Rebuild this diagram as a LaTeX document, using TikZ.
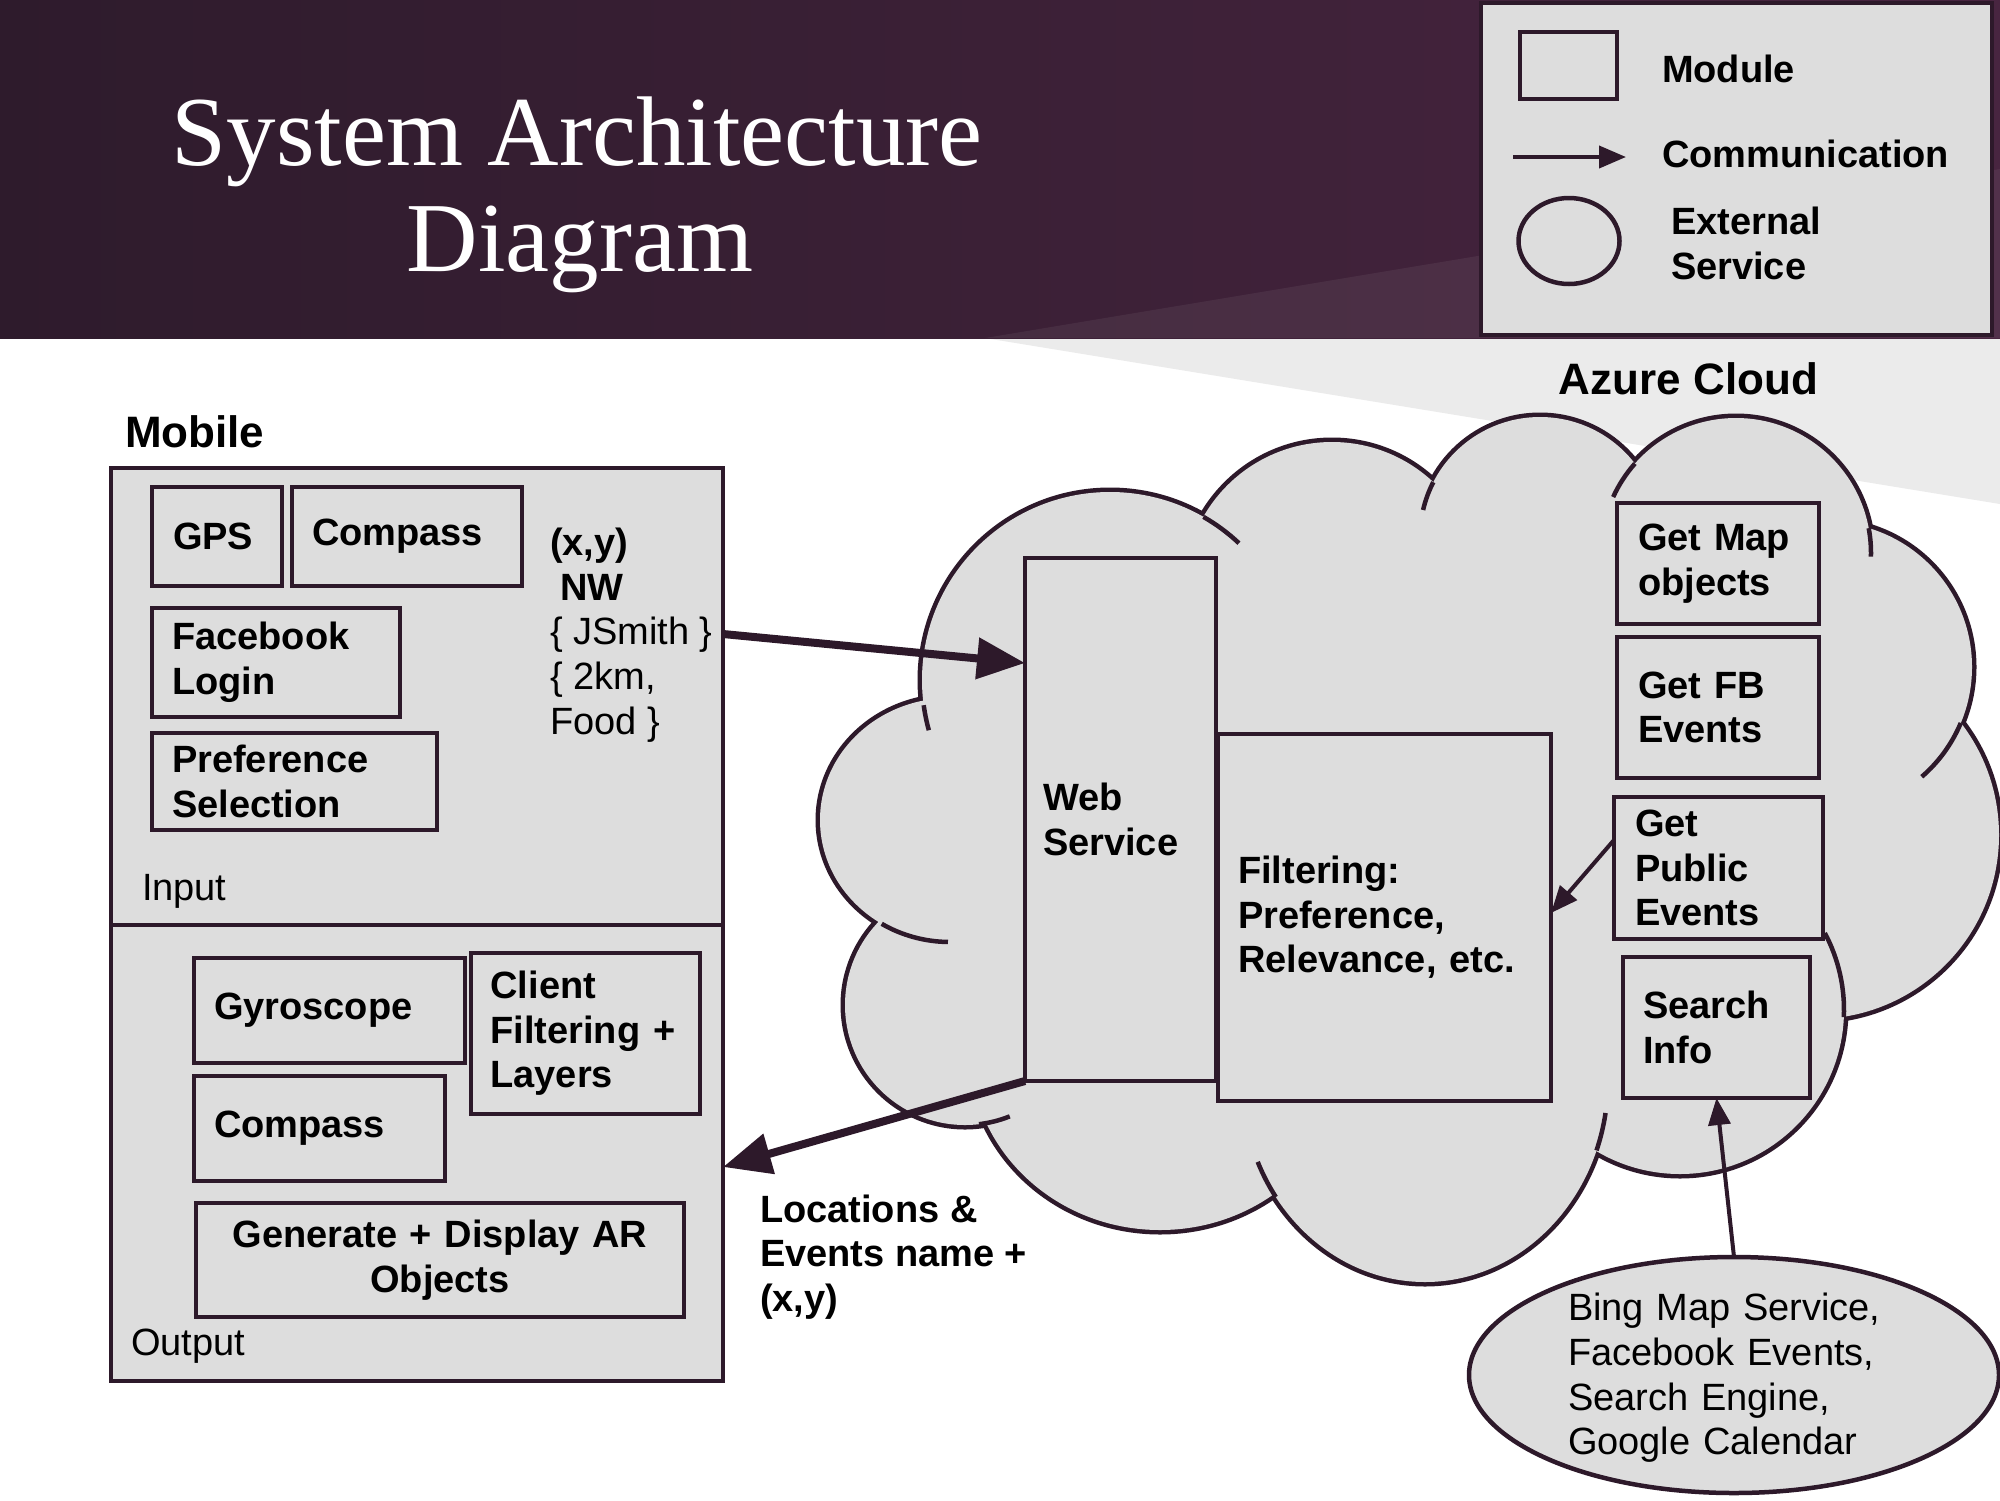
\documentclass[tikz,border=0pt]{standalone}
\usepackage{fontspec}
\setmainfont{Liberation Sans}
\newfontfamily\titlefont{Liberation Serif}
\usetikzlibrary{arrows.meta,shapes.geometric}
\definecolor{ink}{RGB}{45,25,42}
\definecolor{boxgray}{RGB}{221,221,221}
\definecolor{wedgegray}{RGB}{235,235,235}
\definecolor{hdrleft}{RGB}{46,27,44}
\definecolor{hdrright}{RGB}{72,37,64}
\newcommand{\myreg}{\fontsize{38}{44.6}\selectfont}
\newcommand{\mybig}{\fontsize{44}{50}\selectfont}
\newcommand{\mytitle}{\titlefont\fontsize{99}{106}\selectfont}
\begin{document}
\begin{tikzpicture}[x=1pt,y=-1pt,
  modbox/.style={draw=ink, line width=4.5pt, fill=boxgray, inner sep=0pt, outer sep=0pt, font=\bfseries\myreg, align=left},
  lbl/.style={inner sep=0pt, outer sep=0pt, font=\myreg, text=black},
  blbl/.style={inner sep=0pt, outer sep=0pt, font=\bfseries\myreg, text=black},
  headlbl/.style={inner sep=0pt, outer sep=0pt, font=\bfseries\mybig, text=black},
  titlelbl/.style={inner sep=0pt, outer sep=0pt, font=\mytitle, text=white},
  bigarr/.style={draw=ink, line width=8pt, -{Triangle[length=48pt,width=40pt]}},
  smallarr/.style={draw=ink, line width=4pt, -{Triangle[length=27pt,width=22pt]}},
  edgeeight/.style={draw=ink, line width=9pt},
  tailline/.style={draw=ink, line width=4.5pt}
]
\useasboundingbox (0,0) rectangle (2000,1500);
\fill[white] (0,0) rectangle (2000,1500);
% background decorations
\fill[wedgegray] (985,338) -- (2000,338) -- (2000,504) -- cycle;
\shade[left color=hdrleft,right color=hdrright] (0,0) rectangle (2000,338);
\fill[white,opacity=0.06] (985,338) -- (2000,169) -- (2000,338) -- cycle;

% title
\node[titlelbl, anchor=base] (title1) at (577,165) {System Architecture};
\node[titlelbl, anchor=base] (title2) at (580,271) {Diagram};

% legend
\node[draw=ink, line width=4.5pt, fill=boxgray, minimum width=511, minimum height=332, inner sep=0pt, outer sep=0pt] (legend) at (1736.5,169) {};
\node[modbox, minimum width=97, minimum height=67] (legmod) at (1568.5,65.5) {};
\node[blbl, anchor=west] (legmodtxt) at (1662,69) {Module};
\coordinate (legA) at (1513,157);
\coordinate (legB) at (1626,157);
\draw[smallarr] (legA) -- (legB);
\node[blbl, anchor=west] (legcomtxt) at (1662,154) {Communication};
\node[draw=ink, line width=4.5pt, fill=boxgray, ellipse, minimum width=101, minimum height=86, inner sep=0pt, outer sep=0pt] (legext) at (1569,241) {};
\node[blbl, anchor=west, align=left] (legexttxt) at (1671,243.5) {External\\Service};

% cloud
\foreach \cx/\cy/\rx/\ry in {1110/680/188/188, 1332/590/148/148, 1540/537/120/120, 1736/553/135/135, 1827/667/145/145, 1815/835/184/184, 1680/1010/164/164, 1425/1080/183/202, 1160/1050/190/180, 965/1005/120/120, 950/820/130/122}
  {\draw[edgeeight] (\cx,\cy) ellipse[x radius=\rx, y radius=\ry];}
\foreach \cx/\cy/\rx/\ry in {1110/680/188/188, 1332/590/148/148, 1540/537/120/120, 1736/553/135/135, 1827/667/145/145, 1815/835/184/184, 1680/1010/164/164, 1425/1080/183/202, 1160/1050/190/180, 965/1005/120/120, 950/820/130/122}
  {\fill[boxgray] (\cx,\cy) ellipse[x radius=\rx, y radius=\ry];}
\fill[boxgray] (1110,680) -- (1332,590) -- (1540,537) -- (1736,553) -- (1827,667) -- (1815,835) -- (1680,1010) -- (1425,1080) -- (1160,1050) -- (965,1005) -- (950,820) -- cycle;
% inner tails of the cloud
\draw[tailline] (1110,680) ++(172.3:188) arc[start angle=172.3, end angle=164.5, radius=188];
\draw[tailline] (1110,680) ++(-60.2:188) arc[start angle=-60.2, end angle=-46.7, radius=188];
\draw[tailline] (950,820) ++(121.7:130 and 122) arc[start angle=121.7, end angle=90.9, x radius=130, y radius=122];
\draw[tailline] (965,1005) ++(83.3:120) arc[start angle=83.3, end angle=68.1, radius=120];
\draw[tailline] (1425,1080) ++(144.6:183 and 202) arc[start angle=144.6, end angle=156.1, x radius=183, y radius=202];
\draw[tailline] (1425,1080) ++(20.4:183 and 202) arc[start angle=20.4, end angle=9.4, x radius=183, y radius=202];
\draw[tailline] (1680,1010) ++(2.5:164) arc[start angle=2.5, end angle=-28, radius=164];
\draw[tailline] (1827,667) ++(22.7:145) arc[start angle=22.7, end angle=49.2, radius=145];
\draw[tailline] (1736,553) ++(-10.6:135) arc[start angle=-10.6, end angle=1.5, radius=135];
\draw[tailline] (1736,553) ++(221.5:135) arc[start angle=221.5, end angle=204.5, radius=135];
\draw[tailline] (1540,537) ++(207.2:120) arc[start angle=207.2, end angle=193, radius=120];

\node[headlbl] (azure) at (1688.5,379) {Azure Cloud};

% cloud modules
\node[modbox, minimum width=191, minimum height=523, text width=155pt] (web) at (1120.5,819.5) {Web\\Service};
\node[modbox, minimum width=333, minimum height=367, text width=293pt] (filt) at (1384.5,917.5) {Filtering:\\Preference,\\Relevance, etc.};
\node[modbox, minimum width=202, minimum height=121, text width=160pt] (map) at (1718,563.5) {Get Map\\objects};
\node[modbox, minimum width=202, minimum height=141, text width=160pt] (fbev) at (1718,707.5) {Get FB\\Events};
\node[modbox, minimum width=209, minimum height=142, text width=167pt] (pub) at (1718.5,868) {Get\\Public\\Events};
\node[modbox, minimum width=187, minimum height=141, text width=147pt] (search) at (1716.5,1027.5) {Search\\Info};

% external service
\node[draw=ink, line width=4.5pt, fill=boxgray, ellipse, minimum width=530, minimum height=236, inner sep=0pt, outer sep=0pt] (bingell) at (1734,1375) {};
\node[lbl, text width=332pt, align=left] (bingtxt) at (1734,1378) {Bing Map Service,\\Facebook Events,\\Search Engine,\\Google Calendar};

% mobile
\node[headlbl, anchor=west] (mobilelbl) at (125,432) {Mobile};
\node[draw=ink, line width=4.5pt, fill=boxgray, minimum width=612, minimum height=457, inner sep=0pt, outer sep=0pt] (input) at (417,696.5) {};
\node[draw=ink, line width=4.5pt, fill=boxgray, minimum width=612, minimum height=456, inner sep=0pt, outer sep=0pt] (output) at (417,1153) {};
\node[lbl, anchor=west] (inputlbl) at (142,891) {Input};
\node[lbl, anchor=west] (outputlbl) at (131,1346) {Output};

\node[modbox, minimum width=130, minimum height=99, text width=88pt] (gps) at (217,536.5) {GPS};
\node[modbox, minimum width=230, minimum height=99, text width=190pt] (compin) at (407,536.5) {Compass};
\node[modbox, minimum width=248, minimum height=109, text width=208pt] (fblogin) at (276,662.5) {Facebook\\Login};
\node[modbox, minimum width=285, minimum height=97, text width=245pt] (pref) at (294.5,781.5) {Preference\\Selection};
\node[lbl, anchor=west, align=left] (msg) at (550,635) {\textbf{(x,y)}\\\hspace*{10pt}\textbf{NW}\\\{ JSmith \}\\\{ 2km,\\Food \}};

\node[modbox, minimum width=271, minimum height=105, text width=231pt] (gyro) at (329.5,1010.5) {Gyroscope};
\node[modbox, minimum width=229, minimum height=161, text width=190pt] (client) at (585.5,1033.5) {Client\\Filtering +\\Layers};
\node[modbox, minimum width=251, minimum height=105, text width=211pt] (compout) at (319.5,1128.5) {Compass};
\node[modbox, minimum width=488, minimum height=114, text width=440pt, align=center] (gen) at (440,1260) {Generate + Display AR\\Objects};

\node[blbl, anchor=west, align=left] (loc) at (760,1257) {Locations \&\\Events name +\\(x,y)};

% connectors
\draw[bigarr] ([yshift=62.5pt]input.east) -- ([yshift=156.5pt]web.west);
\draw[bigarr] (web.south west) -- ([yshift=-14pt]output.east);
\draw[smallarr] ([yshift=28pt]pub.west) -- ([yshift=4.5pt]filt.east);
\draw[smallarr] (bingell.north) -- (search.south);
\end{tikzpicture}
\end{document}
